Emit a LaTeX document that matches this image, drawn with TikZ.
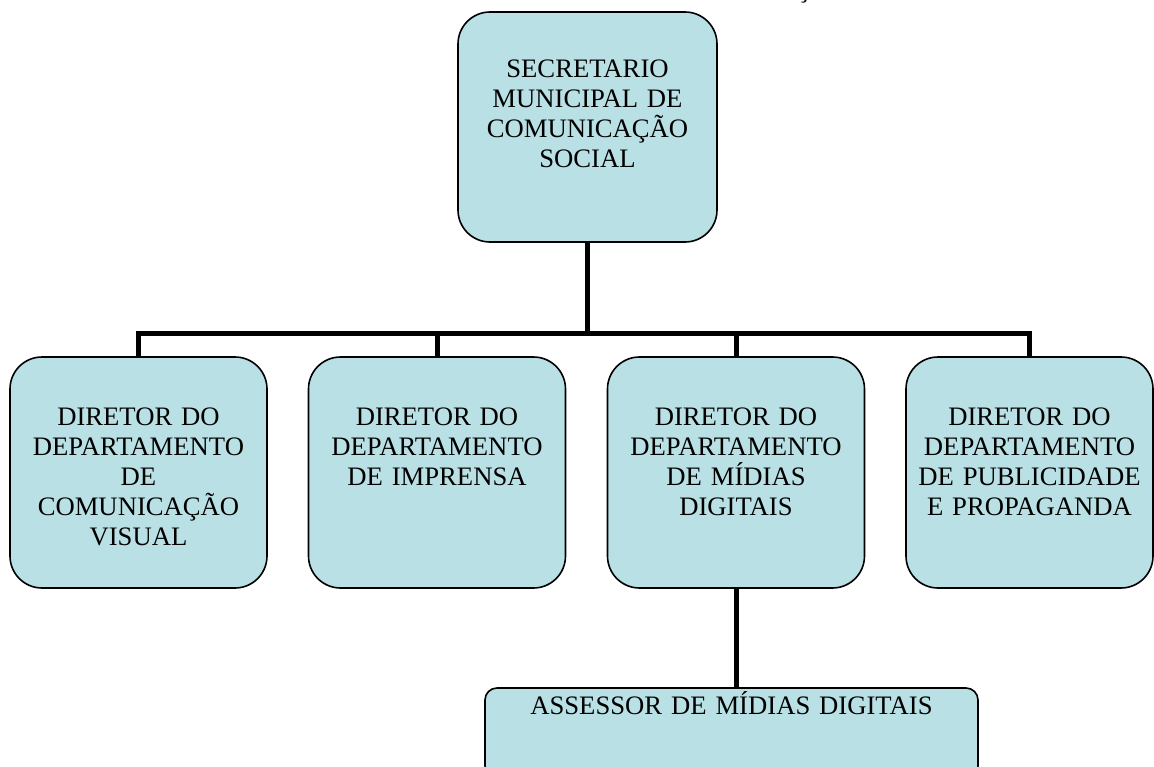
\documentclass[tikz,border=0pt]{standalone}
\usepackage{fontspec}
\setmainfont{Liberation Serif}

\definecolor{azulcaixa}{RGB}{185,224,228}

\tikzset{
    cargo/.style={draw=black, line width=1.2pt, fill=azulcaixa, rounded corners=24pt,
        inner sep=0pt, minimum width=192.75pt, minimum height=173.25pt},
    rotulo/.style={anchor=base, align=center, text width=188pt, inner sep=0pt,
        font=\fontsize{20}{22.5}\selectfont},
    tronco/.style={line width=3.75pt}
}

\begin{document}
\begin{tikzpicture}[x=0.75pt, y=-0.75pt]
    \useasboundingbox (0,0) rectangle (1154,767);

    % Titulo (cortado)
    \node[anchor=base, font=\fontsize{20}{22.5}\selectfont, inner sep=0pt] (titulo) at (803,-2) {Ç};

    % Secretario
    \node[cargo, minimum width=194.25pt, minimum height=172.5pt] (sec) at (587.5,127) {};
    \node[rotulo] (sec-t) at ([yshift=-49.5pt]sec.north) {SECRETARIO\\MUNICIPAL DE\\COMUNICAÇÃO\\SOCIAL};

    % Diretores
    \node[cargo] (dcv) at (138.5,472.5) {};
    \node[cargo] (dim) at (437,472.5) {};
    \node[cargo] (dmd) at (736,472.5) {};
    \node[cargo, minimum width=185.25pt] (dpp) at (1029.5,472.5) {};

    \node[rotulo] (dcv-t) at ([yshift=-51.75pt]dcv.north) {DIRETOR DO\\DEPARTAMENTO\\DE\\COMUNICAÇÃO\\VISUAL};
    \node[rotulo] (dim-t) at ([yshift=-51.75pt]dim.north) {DIRETOR DO\\DEPARTAMENTO\\DE IMPRENSA};
    \node[rotulo] (dmd-t) at ([yshift=-51.75pt]dmd.north) {DIRETOR DO\\DEPARTAMENTO\\DE MÍDIAS\\DIGITAIS};
    \node[rotulo] (dpp-t) at ([yshift=-51.75pt]dpp.north) {DIRETOR DO\\DEPARTAMENTO\\DE PUBLICIDADE\\E PROPAGANDA};

    % Assessor
    \node[cargo, rounded corners=9pt, minimum width=369.75pt, minimum height=67.5pt] (ass) at (731.5,733) {};
    \node[rotulo, text width=360pt] (ass-t) at ([yshift=-20.25pt]ass.north) {ASSESSOR DE MÍDIAS DIGITAIS};

    % Ligacoes
    \coordinate (barra) at (587.5,333);
    \draw[tronco] (sec.south) -- (barra);
    \draw[tronco] (dcv.north) -- (dcv.north |- barra) -- (dpp.north |- barra) -- (dpp.north);
    \draw[tronco] (dim.north) -- (dim.north |- barra);
    \draw[tronco] (dmd.north) -- (dmd.north |- barra);
    \draw[tronco] (dmd.south) -- (dmd.south |- ass.north);

\end{tikzpicture}
\end{document}
